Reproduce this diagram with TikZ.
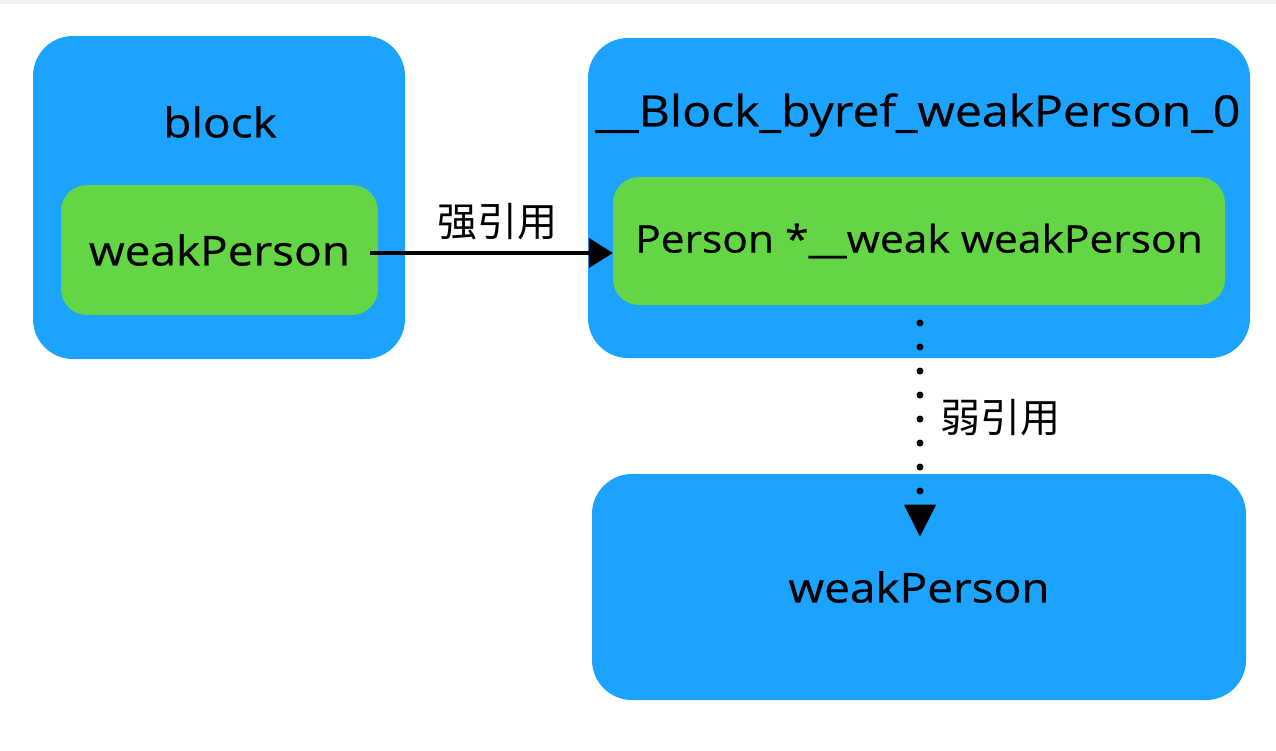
\documentclass[tikz,border=0pt]{standalone}
\usepackage{fontspec}
\setmainfont{Open Sans}[FakeStretch=1.12,FakeBold=0.6]
\newfontfamily\cjk{Noto Sans CJK SC}
\usetikzlibrary{arrows.meta}
\definecolor{boxblue}{RGB}{27,163,255}
\definecolor{boxgreen}{RGB}{100,214,69}
\begin{document}
\begin{tikzpicture}[x=1pt,y=-1pt,
  outer/.style={fill=boxblue,rounded corners=40pt,inner sep=0pt},
  inner/.style={fill=boxgreen,rounded corners=26pt,inner sep=0pt,font=\fontsize{41}{43}\selectfont},
  ttl/.style={font=\fontsize{41}{43}\selectfont,inner sep=0pt},
  lbl/.style={font=\cjk\fontsize{40}{42}\selectfont,inner sep=0pt},
  strong/.style={line width=3.5pt,-{Triangle[length=24pt,width=30pt,line width=1pt]}},
  weakarr/.style={line width=7pt,line cap=round,dash pattern=on 0pt off 24pt,-{Triangle[length=32pt,width=32pt,line width=1pt,round=false]}}]
\useasboundingbox (0,0) rectangle (1276,750);
\fill[black!6] (0,0) rectangle (1276,4);
% left block
\node[outer,minimum width=372pt,minimum height=323pt] (lb) at (219,197.5) {};
\node[ttl] (lbt) at (220,122) {block};
\node[inner,minimum width=317pt,minimum height=130pt] (lg) at (219.5,250) {weakPerson};
% right byref
\node[outer,minimum width=662pt,minimum height=320pt] (rb) at (919,198) {};
\node[ttl,font=\fontsize{43}{45}\selectfont] (rbt) at (918,115) {\_\_Block\_byref\_weakPerson\_0};
\node[inner,minimum width=612pt,minimum height=128pt,font=\fontsize{38}{40}\selectfont] (rg) at (919,241) {Person *\_\_weak weakPerson};
% bottom
\node[outer,minimum width=654pt,minimum height=226pt,font=\fontsize{41}{43}\selectfont] (bot) at (919,587) {weakPerson};
% arrows
\draw[strong] ([xshift=-8pt]lg.east |- 0,253) -- (rg.west |- 0,253);
\node[lbl] (s) at (497,222) {强引用};
\coordinate (d1) at (920,323);
\coordinate (d2) at (920,536);
\draw[weakarr] (d1) -- (d2);
\node[lbl] (w) at (1000,418) {弱引用};
\end{tikzpicture}
\end{document}
